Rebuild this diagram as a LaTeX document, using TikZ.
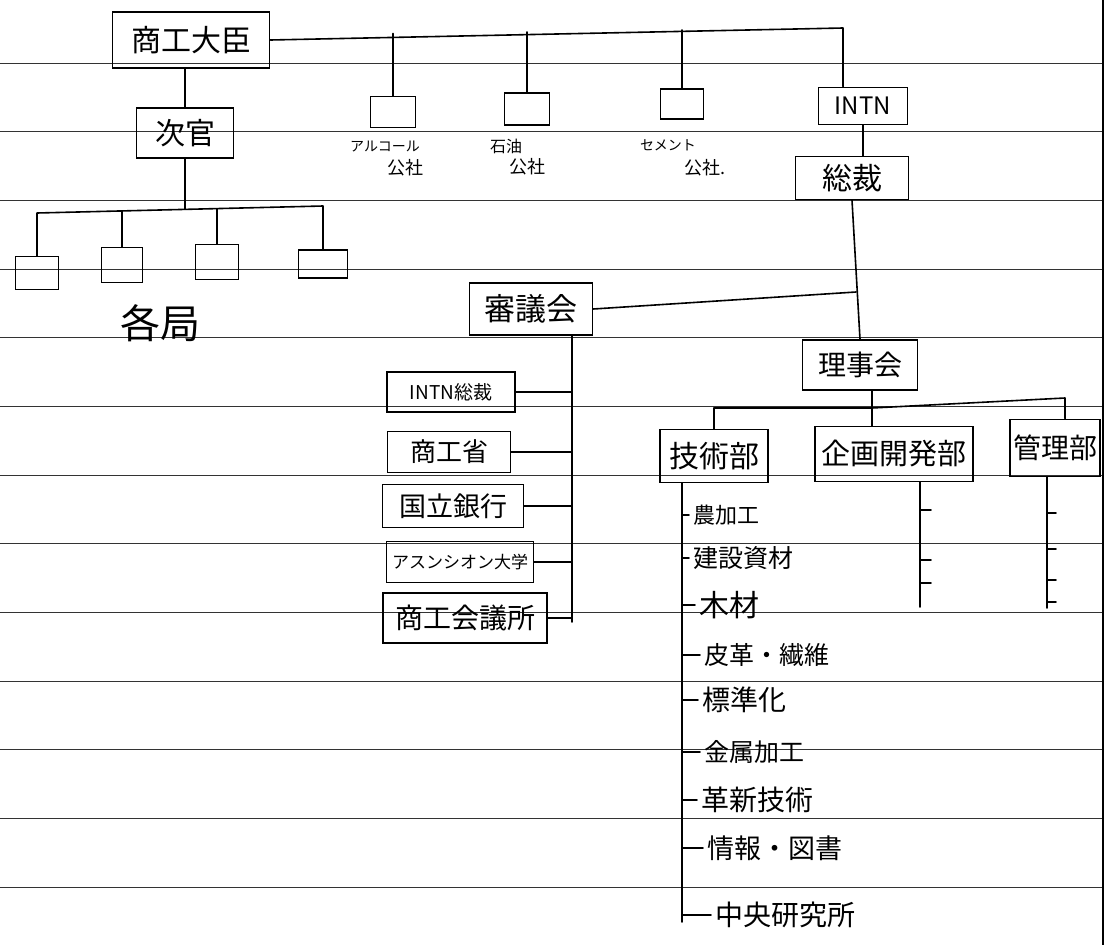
\documentclass[tikz,border=0pt]{standalone}
\usepackage{fontspec}
\newfontfamily\jpfont{Noto Sans CJK JP}
\newcommand\jpsz[1]{\jpfont\fontsize{#1}{#1}\selectfont}
\begin{document}
\begin{tikzpicture}[x=1pt,y=-1pt,
  rule/.style={line width=0.9pt,black!80},
  conn/.style={line width=1.6pt,line cap=round,line join=round},
  box/.style={draw,line width=1.6pt,inner sep=0pt},
  lbl/.style={inner sep=0pt},
  item/.style={inner sep=1pt,anchor=west}]
\fill[white] (0,0) rectangle (1109,945);
\useasboundingbox (0,0) rectangle (1109,945);
% ruled paper
\foreach \k in {0,...,12} \draw[rule] (0,{63+68.67*\k}) -- (1103,{63+68.67*\k});
\draw[line width=2.4pt] (1103,0) -- (1103,945);

% top level
\node[box,minimum width=157pt,minimum height=56pt,font=\jpsz{30}] (minister) at (191,40) {商工大臣};
\node[box,minimum width=97pt,minimum height=50pt,font=\jpsz{30}] (vice) at (185,133) {次官};
\node[box,minimum width=45pt,minimum height=31pt] (alc) at (393,112) {};
\node[box,minimum width=45pt,minimum height=32pt] (oil) at (527,109) {};
\node[box,minimum width=43pt,minimum height=30pt] (cem) at (682,104) {};
\node[lbl,font=\jpsz{14}] (alcA) at (385,147) {アルコール};
\node[lbl,font=\jpsz{18}] (alcB) at (405,168) {公社};
\node[lbl,font=\jpsz{16}] (oilA) at (506,146) {石油};
\node[lbl,font=\jpsz{18}] (oilB) at (527,167) {公社};
\node[lbl,font=\jpsz{14}] (cemA) at (668,145) {セメント};
\node[lbl,font=\jpsz{18}] (cemB) at (705,168) {公社.};
\node[box,minimum width=89pt,minimum height=37pt,font=\jpsz{24}] (intn) at (863,106) {INTN};
\node[box,minimum width=113pt,minimum height=43pt,font=\jpsz{30}] (sousai) at (852,178) {総裁};

% bureaus
\node[box,minimum width=43pt,minimum height=33pt] (b1) at (37,273) {};
\node[box,minimum width=41pt,minimum height=35pt] (b2) at (122,265) {};
\node[box,minimum width=43pt,minimum height=35pt] (b3) at (217,262) {};
\node[box,minimum width=49pt,minimum height=28pt] (b4) at (323,264) {};
\node[lbl,font=\jpsz{40}] (kakukyoku) at (160,323) {各局};

% council
\node[box,minimum width=123pt,minimum height=52pt,font=\jpsz{31}] (council) at (531,309) {審議会};
\node[box,minimum width=128pt,minimum height=40pt,font=\jpsz{19}] (m1) at (451,392) {INTN総裁};
\node[box,minimum width=123pt,minimum height=41pt,font=\jpsz{26}] (m2) at (449,452) {商工省\hspace{30pt}};
\node[box,minimum width=141pt,minimum height=43pt,font=\jpsz{27}] (m3) at (453,506) {国立銀行};
\node[box,minimum width=147pt,minimum height=41pt,font=\jpsz{17}] (m4) at (460,562) {アスンシオン大学};
\node[box,minimum width=164pt,minimum height=50pt,font=\jpsz{28}] (m5) at (465,618) {商工会議所};

% board and departments
\node[box,minimum width=115pt,minimum height=50pt,font=\jpsz{28}] (board) at (860,365) {理事会};
\node[box,minimum width=108pt,minimum height=53pt,font=\jpsz{30}] (tech) at (714,456) {技術部};
\node[box,minimum width=158pt,minimum height=55pt,font=\jpsz{29}] (plan) at (894,454) {企画開発部};
\node[box,minimum width=90pt,minimum height=57pt,font=\jpsz{28}] (admin) at (1055,448) {管理部};

% technical sections
\node[item,font=\jpsz{22}] (i1) at (692,515) {農加工};
\node[item,font=\jpsz{25}] (i2) at (692,558) {建設資材};
\node[item,font=\jpsz{30}] (i3) at (698,605) {木材};
\node[item,font=\jpsz{25}] (i4) at (703,655) {皮革・繊維};
\node[item,font=\jpsz{28}] (i5) at (701,700) {標準化};
\node[item,font=\jpsz{25}] (i6) at (703,752) {金属加工};
\node[item,font=\jpsz{28}] (i7) at (700,800) {革新技術};
\node[item,font=\jpsz{27}] (i8) at (706,848) {情報・図書};
\node[item,font=\jpsz{28}] (i9) at (714,915) {中央研究所};

% connectors: minister
\coordinate (tr) at (843,28);
\draw[conn] (minister.east) -- (tr) -- (tr |- intn.north);
\coordinate (j1) at (393,33.5);
\coordinate (j2) at (527,32);
\coordinate (j3) at (682,30);
\draw[conn] (j1) -- (alc.north);
\draw[conn] (j2) -- (oil.north);
\draw[conn] (j3) -- (cem.north);
\draw[conn] (vice.north |- minister.south) -- (vice.north);
% vice minister to bureaus
\coordinate (bj) at (185,209);
\draw[conn] (vice.south) -- (bj);
\coordinate (bl) at (37,213);
\coordinate (br) at (323,206);
\draw[conn] (b1.north) -- (b1.north |- bl) -- (b4.north |- br) -- (b4.north);
\coordinate (bm2) at (122,211);
\coordinate (bm3) at (217,209);
\draw[conn] (bm2) -- (b2.north);
\draw[conn] (bm3) -- (b3.north);
% INTN trunk
\draw[conn] (intn.south) -- (intn.south |- sousai.north);
\draw[conn] (sousai.south) -- (board.north);
\coordinate (cj) at (856,292);
\draw[conn] (council.east) -- (cj);
% council members
\coordinate (ct) at (572,335);
\coordinate (cb) at (572,622);
\draw[conn] (ct) -- (cb);
\foreach \m in {m1,m2,m3,m4,m5} \draw[conn] (\m.east) -- (\m.east -| ct);
% board to departments
\coordinate (rj) at (872,408);
\draw[conn] (rj |- board.south) -- (rj);
\draw[conn] (tech.north) -- (tech.north |- rj) -- (rj) -- (rj |- plan.north);
\coordinate (ra) at (1065,398);
\draw[conn] (rj) -- (ra) -- (ra |- admin.north);
% technical list
\coordinate (tt) at (682,483);
\coordinate (tb) at (682,922);
\draw[conn] (tt) -- (tb);
\foreach \i in {i1,i2,i3,i4,i5,i6,i7,i8,i9} \draw[conn] (\i.west -| tt) -- ([xshift=-3pt]\i.west);
% planning list
\coordinate (pt) at (920,482);
\coordinate (pb) at (920,607);
\draw[conn] (pt) -- (pb);
\foreach \y in {510,560,583} \draw[conn] (pt |- 0,\y) -- ++(11,0);
% admin list
\coordinate (at) at (1047,477);
\coordinate (ab) at (1047,608);
\draw[conn] (at) -- (ab);
\foreach \y in {513,549,580,602} \draw[conn] (at |- 0,\y) -- ++(9,0);
\end{tikzpicture}
\end{document}
